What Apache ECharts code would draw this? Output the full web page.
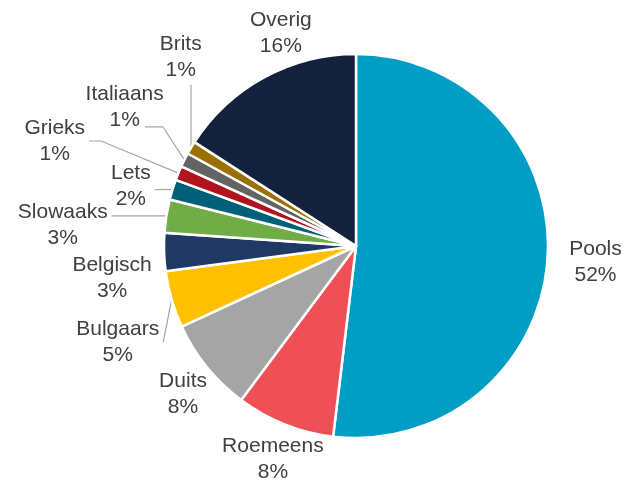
<!DOCTYPE html>
<html>
<head>
<meta charset="utf-8">
<script src="https://cdn.jsdelivr.net/npm/echarts@6/dist/echarts.min.js"></script>
<style>html,body{margin:0;padding:0;background:#fff}#chart{width:626px;height:481px}</style>
</head>
<body>
<div id="chart"></div>
<script>
var names = ["Pools", "Roemeens", "Duits", "Bulgaars", "Belgisch", "Slowaaks", "Lets", "Grieks", "Italiaans", "Brits", "Overig"];
var values = [51.9, 8.3, 7.9, 4.8, 3.2, 2.8, 1.7, 1.2, 1.2, 1.1, 15.9];
var colors = ["#009DC4", "#EF5058", "#A5A5A5", "#FFC000", "#1F3864", "#70AD47", "#00607A", "#B0131C", "#636363", "#9C7000", "#14213D"];

// label placement (distance from centre, angle shift in degrees), leader lines
var labelDist = [240, 229, 228, 257, 246, 294, 233, 319, 270, 258, 226];
var labelShift = [0.4, -0.5, -1.6, -5.8, -5.7, -4.9, -2.2, -3.1, 4.4, 16.4, 9.2];
var hasLine = [0, 0, 0, 1, 0, 1, 1, 1, 1, 1, 0];
// 0 = nearest point of label box, 1 = middle of its side, 2 = beside the second line
var lineAttach = [0, 0, 0, 1, 0, 0, 0, 1, 2, 0, 0];
var elbowLen = [0, 0, 0, 0, 0, 0, 10, 12, 18, 0, 0];

var CX = 356, CY = 246, R = 192;
var FONT = "21px 'Liberation Sans'";

var total = values.reduce(function (a, b) { return a + b; }, 0);
var midAngles = [];
var acc = 0;
values.forEach(function (v) {
  midAngles.push((acc + v / 2) / total * 360);
  acc += v;
});

function polar(dist, deg) {
  var a = deg * Math.PI / 180;
  return [CX + dist * Math.sin(a), CY - dist * Math.cos(a)];
}

var ctx = document.createElement("canvas").getContext("2d");
ctx.font = FONT;
function pctText(i) {
  return Math.round(values[i] / total * 100) + "%";
}

var pieData = names.map(function (n, i) {
  return { name: n, value: values[i], labelLine: { show: !!hasLine[i] } };
});

var myChart = echarts.init(document.getElementById("chart"));
var option = {
  animation: false,
  color: colors,
  series: [
    {
      type: "pie",
      center: [CX, CY],
      radius: R,
      startAngle: 90,
      avoidLabelOverlap: false,
      itemStyle: {
        borderColor: "#ffffff",
        borderWidth: 2.5
      },
      label: {
        show: true,
        position: "outside",
        color: "#404040",
        fontSize: 21,
        lineHeight: 26,
        fontFamily: "Liberation Sans",
        formatter: function (p) {
          return p.name + "\n" + Math.round(p.percent) + "%";
        }
      },
      labelLine: {
        length: 10,
        length2: 0,
        lineStyle: { color: "#A6A6A6", width: 1.2 }
      },
      labelLayout: function (p) {
        var i = p.dataIndex;
        var c = polar(labelDist[i], midAngles[i] + labelShift[i]);
        var w = p.labelRect.width, h = p.labelRect.height;
        var res = { x: c[0], y: c[1], align: "center", verticalAlign: "middle" };
        if (hasLine[i]) {
          var e = polar(R, midAngles[i]);
          var left = c[0] - w / 2 - 4, right = c[0] + w / 2 + 4;
          var top = c[1] - h / 2 - 2, bottom = c[1] + h / 2 + 2;
          var end;
          if (lineAttach[i] === 2) {
            end = [c[0] + ctx.measureText(pctText(i)).width / 2 + 5, c[1] + 20];
          } else if (lineAttach[i] === 1) {
            end = [Math.min(Math.max(e[0], left), right), c[1]];
          } else {
            end = [Math.min(Math.max(e[0], left), right), Math.min(Math.max(e[1], top), bottom)];
          }
          var elbow = elbowLen[i] ? [end[0] + (e[0] > end[0] ? elbowLen[i] : -elbowLen[i]), end[1]] : end;
          res.labelLinePoints = [e, elbow, end];
        }
        return res;
      },
      data: pieData
    }
  ]
};
myChart.setOption(option);
window.addEventListener("resize", function () {
  myChart.resize();
});
</script>
</body>
</html>
